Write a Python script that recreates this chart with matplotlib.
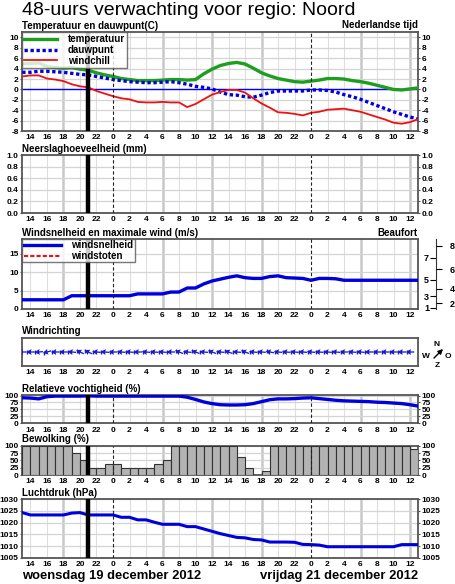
import matplotlib
matplotlib.use('Agg')
import matplotlib.pyplot as plt
from matplotlib.lines import Line2D
import numpy as np

plt.rcParams['font.family'] = ['Liberation Sans', 'DejaVu Sans']
plt.rcParams['font.weight'] = 'bold'

W, H = 455, 584

# hourly values from 13h on day 1 (hour 13) to 13h on day 3 (hour 61)
hours = np.arange(13, 62)

temperatuur = [4.9, 5.0, 5.1, 4.4, 4.2, 4.1, 4.2, 3.9, 3.7, 3.2, 2.8, 2.5, 2.1, 1.9,
               1.7, 1.7, 1.7, 1.8, 1.9, 1.9, 1.8, 1.9, 3.0, 3.9, 4.6, 5.0, 5.2, 4.9,
               4.1, 3.2, 2.6, 2.1, 1.8, 1.5, 1.4, 1.6, 1.8, 2.1, 2.1, 2.0, 1.7, 1.5,
               1.2, 0.8, 0.4, 0.0, -0.1, 0.1, 0.3]
dauwpunt = [3.3, 3.3, 3.5, 3.5, 3.4, 3.3, 3.1, 2.9, 2.8, 2.5, 2.2, 1.9, 1.7, 1.5,
            1.4, 1.3, 1.3, 1.4, 1.5, 1.3, 1.0, 0.6, 0.4, 0.1, -0.5, -1.0, -1.1, -1.4,
            -1.5, -1.1, -0.6, -0.3, -0.3, -0.3, -0.3, -0.1, -0.1, -0.2, -0.5, -1.0,
            -1.4, -1.9, -2.5, -3.1, -3.7, -4.3, -4.8, -5.3, -5.7]
windchill = [2.5, 2.7, 2.7, 2.1, 1.9, 1.6, 1.0, 0.6, 0.4, -0.3, -0.8, -1.3, -1.7, -1.9,
             -2.4, -2.5, -2.5, -2.4, -2.5, -2.5, -3.4, -2.8, -1.9, -1.0, -0.5, -0.1,
             -0.1, -0.6, -1.7, -2.7, -3.5, -4.4, -4.5, -4.7, -5.0, -4.5, -4.3, -3.9,
             -3.8, -3.7, -4.0, -4.3, -4.8, -5.3, -5.8, -6.4, -6.6, -6.3, -5.7]
windsnelheid = [2.5, 2.5, 2.5, 2.5, 2.5, 2.5, 3.6, 3.6, 3.6, 3.6, 3.6, 3.6, 3.6, 3.6,
                4.1, 4.1, 4.1, 4.1, 4.6, 4.6, 5.7, 5.7, 6.8, 7.6, 8.1, 8.6, 9.0, 8.5,
                8.3, 8.3, 8.8, 9.0, 8.5, 8.4, 8.3, 7.8, 8.3, 8.3, 8.2, 7.8, 7.8, 7.8,
                7.8, 7.8, 7.8, 7.8, 7.8, 7.8, 7.8]
vochtigheid = [92, 91, 88, 96, 98, 98, 98, 98, 99, 98, 98, 98, 98, 98, 98, 98, 98, 98,
               98, 98, 94, 86, 77, 71, 67, 66, 66, 67, 71, 78, 85, 88, 88, 89, 91, 92,
               89, 86, 83, 81, 80, 79, 78, 76, 75, 73, 71, 67, 62]
luchtdruk = [1024.3, 1023.3, 1023.3, 1023.3, 1023.3, 1023.3, 1024.1, 1024.3, 1023.3,
             1023.3, 1023.3, 1023.3, 1022.3, 1022.3, 1021.2, 1021.2, 1020.2, 1019.3,
             1019.3, 1019.3, 1018.3, 1018.3, 1017.3, 1016.3, 1015.3, 1014.5, 1013.7,
             1013.5, 1012.8, 1012.6, 1011.7, 1011.7, 1011.7, 1011.6, 1010.7, 1010.6,
             1010.4, 1009.7, 1009.7, 1009.7, 1009.7, 1009.7, 1009.7, 1009.7, 1009.7,
             1009.7, 1010.6, 1010.6, 1010.6]

# one value per hour block 13-14 ... 60-61
bewolking = [100, 100, 100, 100, 100, 100, 75, 50, 25, 25, 37.5, 37.5, 25, 25, 25, 25,
             37.5, 50, 100, 100, 100, 100, 100, 100, 100, 100, 62.5, 25, 0, 12.5,
             100, 100, 100, 100, 100, 100, 100, 100, 100, 100, 100, 100, 100, 100,
             100, 100, 100, 87.5]
# wind direction (degrees, where the wind comes from) at hours 13..60
windrichting = [90, 90, 85, 75, 90, 90, 95, 115, 115, 95, 95, 90, 95, 95, 90, 95,
                95, 95, 90, 110, 95, 110, 95, 110, 95, 110, 95, 110, 95, 95, 100, 95,
                95, 95, 95, 95, 95, 95, 95, 90, 95, 95, 90, 90, 90, 90, 90, 90]

bft_nummer = [1, 2, 3, 4, 5, 6, 7, 8]
bft_grens = [0.3, 1.6, 3.4, 5.5, 8.0, 10.8, 13.9, 17.2]

nu = 21  # current time marker
middernacht = [24, 48]

GREEN = '#1e9e1e'
BLUE = '#0000dd'
RED = '#ee1111'
FRAME = '#555555'

fig = plt.figure(figsize=(W / 100, H / 100), dpi=100)


def px_axes(top, bottom, left=22.25, right=418.25):
    return fig.add_axes([left / W, 1 - bottom / H, (right - left) / W, (bottom - top) / H])


def style(ax, ylim, yticks=None, yfmt='%g', right_labels=True, grid=True, marks=True):
    ax.set_xlim(13, 61)
    ax.set_ylim(*ylim)
    xt = list(range(14, 61, 2))
    ax.set_xticks(xt)
    ax.set_xticklabels([str(h % 24) for h in xt])
    ax.tick_params(axis='x', length=0, pad=2.5, labelsize=6)
    if yticks is None:
        ax.set_yticks([])
    else:
        ax.set_yticks(yticks)
        ax.set_yticklabels([yfmt % t for t in yticks])
        ax.tick_params(axis='y', length=1.5, pad=1, labelsize=6, color=FRAME,
                       right=right_labels, labelright=right_labels)
    for s in ax.spines.values():
        s.set_color(FRAME)
        s.set_linewidth(1.3)
    if grid:
        for h in xt:
            if h in middernacht:
                continue
            if h % 6 == 0:
                ax.axvline(h, color='#c8c8c8', lw=1.8, zorder=0)
            else:
                ax.axvline(h, color='#dedede', lw=0.8, zorder=0)
        if yticks is not None:
            for t in yticks:
                ax.axhline(t, color='#d4d4d4', lw=0.9, zorder=0)
    if marks:
        ax.axvline(nu, color='black', lw=3.2, zorder=5)
        for m in middernacht:
            ax.axvline(m, color='#222222', lw=0.8, ls=(0, (3, 2)), zorder=5)


def title(top, text):
    fig.text(22 / W, 1 - (top - 3.5) / H, text, fontsize=7, va='baseline', ha='left')


fig.text(22 / W, 1 - 15 / H, '48-uurs verwachting voor regio: Noord', fontsize=14,
         fontweight='normal', va='baseline')
fig.text(418 / W, 1 - 28 / H, 'Nederlandse tijd', fontsize=7, ha='right', va='baseline')

# temperature
ax1 = px_axes(32.3, 131)
style(ax1, (-8, 11), list(range(-8, 11, 2)))
ax1.axhline(0, color='#0000ff', lw=1.0, zorder=2)
ax1.plot(hours, temperatuur, color=GREEN, lw=2.4, label='temperatuur', zorder=3)
ax1.plot(hours, dauwpunt, color=BLUE, lw=2.4, ls=(0, (1, 0.8)), label='dauwpunt', zorder=3)
ax1.plot(hours, windchill, color=RED, lw=1.3, label='windchill', zorder=3)
leg = ax1.legend(loc='upper left', fontsize=7, frameon=True, fancybox=False,
                 borderaxespad=0, borderpad=0.2, labelspacing=0.08, handlelength=3.4,
                 handletextpad=1.1)
leg.get_frame().set_edgecolor(FRAME)
leg.get_frame().set_linewidth(1.0)
leg.set_zorder(10)
title(32.3, 'Temperatuur en dauwpunt(C)')

# precipitation
ax2 = px_axes(155, 213)
style(ax2, (0, 1), [0.0, 0.2, 0.4, 0.6, 0.8, 1.0], yfmt='%.1f')
title(155, 'Neerslaghoeveelheid (mm)')

# wind
ax3 = px_axes(239, 309)
style(ax3, (0, 19), [0, 5, 10, 15], right_labels=False)
ax3.plot(hours, windsnelheid, color=BLUE, lw=2.4, zorder=3)
handles = [Line2D([], [], color=BLUE, lw=2.4), Line2D([], [], color=RED, lw=1.5, ls=(0, (2, 1)))]
leg3 = ax3.legend(handles, ['windsnelheid', 'windstoten'], loc='upper left', fontsize=7,
                  frameon=True, fancybox=False, borderaxespad=0, borderpad=0.15,
                  labelspacing=0.05, handlelength=3.8, handletextpad=1.1)
leg3.get_frame().set_edgecolor(FRAME)
leg3.get_frame().set_linewidth(1.0)
leg3.set_zorder(10)
title(239, 'Windsnelheid en maximale wind (m/s)')
fig.text(418 / W, 1 - 235.5 / H, 'Beaufort', fontsize=7, ha='right', va='baseline')

# Beaufort scale axis
axb = fig.add_axes([436 / W, 1 - 309 / H, 0.0001, 70 / H])
axb2 = axb.twinx()
for a in (axb, axb2):
    a.set_ylim(0, 19)
    a.set_xticks([])
    for s in a.spines.values():
        s.set_visible(False)
axb.spines['left'].set_visible(True)
axb.spines['left'].set_color('#333333')
axb.set_yticks([b for n, b in zip(bft_nummer, bft_grens) if n % 2 == 1])
axb.set_yticklabels([str(n) for n in bft_nummer if n % 2 == 1])
axb.tick_params(axis='y', length=4, width=0.8, pad=1, labelsize=6.5)
axb2.set_yticks([b for n, b in zip(bft_nummer, bft_grens) if n % 2 == 0])
axb2.set_yticklabels([str(n) for n in bft_nummer if n % 2 == 0])
axb2.tick_params(axis='y', length=4, width=0.8, pad=6, labelsize=6.5)

# wind direction
ax4 = px_axes(338, 366)
style(ax4, (-1, 1), None, grid=False, marks=False)
dir_hours = np.arange(13, 61)
rad = np.deg2rad(windrichting)
u = -np.sin(rad)
v = -np.cos(rad)
ax4.quiver(dir_hours, np.zeros(len(dir_hours)), u, v, angles='uv', pivot='middle',
           scale_units='dots', scale=1 / 8.5, units='dots', width=1.3, headwidth=4.5,
           headlength=4, headaxislength=3.6, color='#1a1acc', zorder=3)
ax4.plot(dir_hours + 0.4 * u, 0.25 * v, ls='none', marker='|', ms=3.5, mew=1.0,
         color='#1a1acc', zorder=3)
title(338, 'Windrichting')

# compass
def figpx(x, y):
    return (x / W, 1 - y / H)

for txt, (cx, cy) in [('N', (437, 346)), ('W', (426, 358)), ('O', (448, 358)), ('Z', (437, 367))]:
    fig.text(*figpx(cx, cy), txt, fontsize=6, ha='center', va='baseline')
fig.add_artist(matplotlib.patches.FancyArrowPatch(figpx(432, 360), figpx(445, 347),
               transform=fig.transFigure, arrowstyle='-|>', mutation_scale=7,
               color='black', lw=1.0))

# relative humidity
ax5 = px_axes(395, 423.3)
style(ax5, (0, 102), [0, 25, 50, 75, 100])
ax5.plot(hours, vochtigheid, color=BLUE, lw=2.4, zorder=3)
title(395, 'Relatieve vochtigheid (%)')

# cloud cover
ax6 = px_axes(445.7, 475)
style(ax6, (0, 100), [0, 25, 50, 75, 100])
ax6.bar(dir_hours + 0.5, bewolking, width=1.0, color='#b3b3b3', edgecolor='#333333',
        linewidth=0.8, zorder=3)
title(445.7, 'Bewolking (%)')

# pressure
ax7 = px_axes(499.3, 557.7)
style(ax7, (1005, 1030), [1005, 1010, 1015, 1020, 1025, 1030])
ax7.plot(hours, luchtdruk, color=BLUE, lw=2.2, zorder=3)
title(499.3, 'Luchtdruk (hPa)')

fig.text(22 / W, 1 - 579 / H, 'woensdag 19 december 2012', fontsize=9.4, va='baseline')
fig.text(418 / W, 1 - 579 / H, 'vrijdag 21 december 2012', fontsize=9.4, va='baseline',
         ha='right')

fig.savefig('out.png', dpi=100)
